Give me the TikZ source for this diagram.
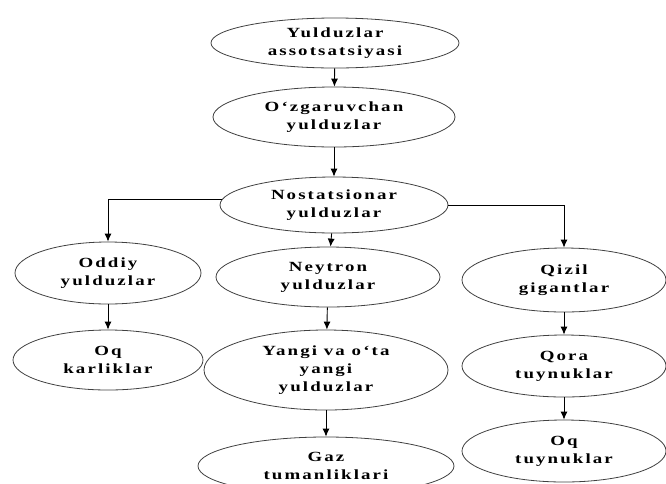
\documentclass[tikz,border=0pt]{standalone}
\usepackage{fontspec}
\setmainfont{Liberation Serif}[FakeStretch=1.35,LetterSpace=15]
\usetikzlibrary{shapes.geometric,arrows.meta}

\tikzset{
  oval/.style={ellipse,draw=black!75,line width=0.8pt,inner sep=0pt,
    align=center,font=\fontsize{14}{18}\selectfont\bfseries},
  arr/.style={-{Latex[length=8pt,width=7pt]},line width=0.9pt}
}

\begin{document}
\begin{tikzpicture}[x=1pt,y=-1pt]
\useasboundingbox (0,0) rectangle (666,483);
\node[oval,minimum width=248,minimum height=50] (yulduz) at (335,43) {Yulduzlar\\assotsatsiyasi};
    \node[oval,minimum width=242,minimum height=60] (ozgar) at (334,117) {O‘zgaruvchan\\yulduzlar};
    \node[oval,minimum width=228,minimum height=56] (nostat) at (334,205) {Nostatsionar\\yulduzlar};
    
    \node[oval,minimum width=186,minimum height=62] (oddiy) at (108,273) {Oddiy\\yulduzlar};
    \node[oval,minimum width=190,minimum height=60] (oqkar) at (108,360) {Oq\\karliklar};
    
    \node[oval,minimum width=224,minimum height=60] (neytron) at (328,277) {Neytron\\yulduzlar};
    \node[oval,minimum width=244,minimum height=80] (yangi) at (326,370) {Yangi va o‘ta\\yangi\\yulduzlar};
    \node[oval,minimum width=256,minimum height=58] (gaz) at (326,466) {Gaz\\tumanliklari};
    
    \node[oval,minimum width=204,minimum height=64] (qizil) at (564,280) {Qizil\\gigantlar};
    \node[oval,minimum width=204,minimum height=62] (qora) at (564,366) {Qora\\tuynuklar};
    \node[oval,minimum width=204,minimum height=62] (oqtuy) at (564,451) {Oq\\tuynuklar};
    
    \path[arr] (yulduz) edge (ozgar);
    \path[arr] (ozgar) edge (nostat);
    \draw[arr] (nostat.177) -| (oddiy.north);
    \draw[arr] (nostat.east) -| (qizil.north);
    \path[arr] (nostat) edge (neytron);
    \path[arr] (oddiy) edge (oqkar);
    \path[arr] (neytron) edge (yangi);
    \path[arr] (yangi) edge (gaz);
    \path[arr] (qizil) edge (qora);
    \path[arr] (qora) edge (oqtuy);
\end{tikzpicture}
\end{document}
